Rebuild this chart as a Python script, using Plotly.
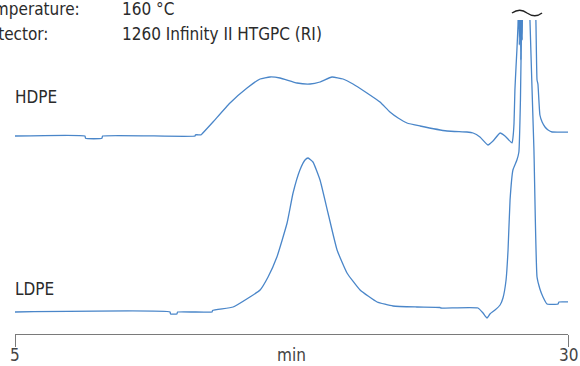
import plotly.graph_objects as go

# Retention time (min) and RI response for each sample; each trace is
# stored relative to its own baseline and stacked with an offset below.
hdpe_time = [5.00, 8.16, 8.19, 8.93, 8.96, 13.14, 13.16, 13.41, 13.45, 13.95,
             14.72, 15.49, 16.08, 16.53, 16.98, 17.75, 18.34, 18.79, 19.33, 19.83,
             20.28, 20.91, 21.50, 21.95, 22.32, 22.72, 23.31, 24.53, 25.43, 25.71,
             26.02, 26.38, 26.61, 26.93, 27.15, 27.47, 27.51, 27.56, 27.60, 27.65,
             27.69, 27.74, 27.77, 27.80, 27.83, 27.87, 27.90, 27.93, 27.97, 28.24,
             28.49, 28.55, 28.60, 28.64, 28.73, 28.83, 28.96, 29.10, 29.28, 30.09]
hdpe_resp = [0, 0, -2.3, -2.3, 0, 0, 1.2, 1.2, 2, 14,
             33, 48, 57, 59, 58, 53, 52, 54, 59, 57,
             52, 43, 34, 24, 18, 13, 10, 5, 4, 3,
             -1, -9, -5, 3, 0, -7, -2, 13, 46, 69,
             86, 111, 156, 91, 156, 76, 156, 96, 176, 216,
             156, 114, 56, 52, 21, 14, 9, 6, 4, 4]

ldpe_time = [5.00, 12.01, 12.03, 12.32, 12.35, 13.91, 13.93, 14.86, 15.62, 16.08,
             16.44, 16.84, 17.30, 17.57, 17.88, 18.11, 18.25, 18.47, 18.79, 19.15,
             19.56, 20.01, 20.60, 21.37, 22.09, 23.17, 24.21, 24.25, 25.93, 26.16,
             26.34, 26.47, 26.70, 26.93, 27.06, 27.20, 27.29, 27.38, 27.51, 27.69,
             27.78, 27.85, 27.90, 27.94, 28.10, 28.24, 28.28, 28.46, 28.60, 28.73,
             28.87, 29.05, 29.55, 29.59, 30.05]
ldpe_resp = [0, 0, -2, -2, 0, 0, 1.5, 5, 15, 22,
             35, 55, 89, 119, 142, 152, 154, 150, 132, 99,
             62, 39, 22, 10, 6, 5, 4.5, 4, 4, -1,
             -6, -2, 2, 7, 14, 32, 62, 112, 142, 152,
             160, 212, 292, 372, 462, 372, 292, 162, 35, 23,
             15, 8, 8, 10, 10]

x_ticks = [5, 30]
x_tick_text = ["5", "30"]

info_labels = ["Temperature:", "Detector:"]
info_values = ["160 °C", "1260 Infinity II HTGPC (RI)"]

HDPE_OFFSET = 198
LDPE_OFFSET = 22

LINE = "#4a86c9"
TEXT = "#2b2b2b"
AXIS = "#7a7a7a"
FONT = "DejaVu Sans Condensed, Arial, sans-serif"
FS = 17
LABEL_ROW_Y = -0.068   # tick-label row below the axis line (paper units)

fig = go.Figure()
for t, r, off, nm in [(hdpe_time, hdpe_resp, HDPE_OFFSET, "HDPE"),
                      (ldpe_time, ldpe_resp, LDPE_OFFSET, "LDPE")]:
    fig.add_trace(go.Scatter(x=t, y=[v + off for v in r], mode="lines",
                             line=dict(color=LINE, width=1.3, shape="spline", smoothing=0.4),
                             name=nm, hoverinfo="skip"))

fig.update_layout(
    width=580, height=366,
    margin=dict(l=15, r=12, t=20, b=32, autoexpand=False),
    paper_bgcolor="white", plot_bgcolor="white",
    showlegend=False,
    font=dict(family=FONT, size=FS, color=TEXT),
    xaxis=dict(range=[5, 30], showgrid=False, zeroline=False, automargin=False,
               showline=True, linecolor=AXIS, linewidth=1.3,
               ticks="outside", ticklen=12, tickwidth=1.3, tickcolor=AXIS,
               tickvals=x_ticks, showticklabels=False),
    yaxis=dict(range=[0, 314], visible=False, automargin=False),
)

# tick labels and the unit, all on one row under the axis
for xv, txt in zip(x_ticks, x_tick_text):
    fig.add_annotation(x=xv, y=LABEL_ROW_Y, xref="x", yref="paper", text=txt,
                       showarrow=False, xanchor="center", yanchor="middle",
                       font=dict(color="#444444"))
fig.add_annotation(x=0.5, y=LABEL_ROW_Y, xref="paper", yref="paper", text="min",
                   showarrow=False, xanchor="center", yanchor="middle",
                   font=dict(color="#444444"))

# sample labels
fig.add_annotation(x=-0.004, y=0.755, xref="paper", yref="paper", text="HDPE",
                   showarrow=False, xanchor="left", yanchor="middle")
fig.add_annotation(x=-0.004, y=0.143, xref="paper", yref="paper", text="LDPE",
                   showarrow=False, xanchor="left", yanchor="middle")

# run conditions
for i, (lab, val) in enumerate(zip(info_labels, info_values)):
    ypos = 1.035 - i * 0.08
    fig.add_annotation(x=-0.072, y=ypos, xref="paper", yref="paper", text=lab,
                       showarrow=False, xanchor="left", yanchor="middle")
    fig.add_annotation(x=0.190, y=ypos, xref="paper", yref="paper", text=val,
                       showarrow=False, xanchor="left", yanchor="middle")

# break mark above the truncated solvent peak
fig.add_shape(type="path", xref="paper", yref="paper",
              path="M 0.8987,1.0223 Q 0.9132,1.0398 0.9259,1.0223 Q 0.9403,1.0048 0.9530,1.0223",
              line=dict(color="#222222", width=1.5))

fig.write_html("out.html")
